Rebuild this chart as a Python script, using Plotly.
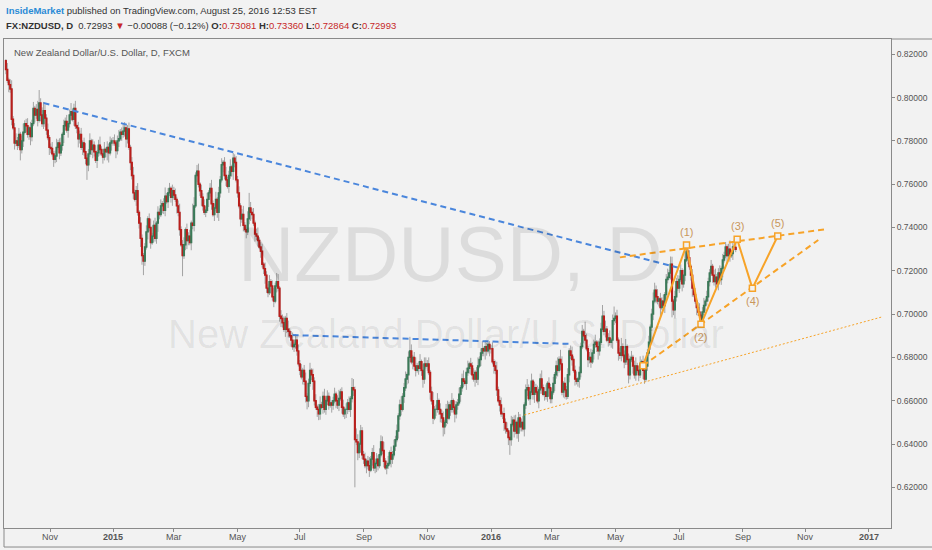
import pandas as pd
import plotly.graph_objects as go

# NZDUSD daily candles, prices in pips (1/10000), one line per month
opens = [
    8170, 8130, 8080, 8060, 8040, 7900, 7860, 7790,
    7800, 7780, 7830, 7760, 7800, 7840, 7880, 7870, 7830, 7860, 7820, 7880, 7950, 7920, 7945, 7895, 7975, 7920, 7880, 7940, 7905, 7850, 7815,
    7770, 7765, 7740, 7715, 7730, 7770, 7790, 7745, 7780, 7830, 7870, 7890, 7850, 7880, 7920, 7935, 7900, 7950, 7870, 7860,
    7810, 7830, 7770, 7790, 7750, 7720, 7690, 7740, 7800, 7760, 7780, 7750, 7710, 7745, 7780, 7760, 7740, 7725, 7760, 7750, 7770, 7745, 7790,
    7800, 7800, 7790, 7755, 7800, 7810, 7840, 7830, 7845, 7860, 7810, 7855, 7770, 7700, 7640, 7560, 7530, 7570, 7470, 7420, 7350, 7270,
    7245, 7310, 7380, 7440, 7400, 7330, 7360, 7410, 7350, 7420, 7470, 7460, 7500, 7510, 7480, 7545, 7520, 7560, 7580, 7540,
    7570, 7550, 7530, 7500, 7470, 7390, 7320, 7270, 7320, 7390, 7340, 7360, 7330, 7420, 7410, 7500, 7640, 7660, 7600, 7570, 7540, 7500,
    7470, 7480, 7530, 7560, 7580, 7510, 7460, 7490, 7530, 7470, 7560, 7620, 7690, 7700, 7640, 7620, 7590, 7640, 7680, 7660, 7720, 7700,
    7620, 7560, 7500, 7440, 7460, 7410, 7390, 7380, 7440, 7490, 7470, 7460, 7420, 7370, 7360, 7340, 7310, 7290, 7230, 7210, 7180,
    7120, 7100, 7150, 7130, 7080, 7060, 7130, 7150, 7120, 6990, 6980, 6960, 6930, 6980, 6930, 6920, 6900, 6880, 6850, 6860, 6880, 6830,
    6770, 6740, 6710, 6740, 6690, 6620, 6600, 6680, 6740, 6720, 6690, 6600, 6570, 6560, 6540, 6580, 6570, 6620, 6560, 6600, 6620, 6580, 6590,
    6580, 6600, 6630, 6600, 6580, 6610, 6640, 6570, 6540, 6560, 6560, 6590, 6560, 6610, 6660, 6650, 6420, 6410, 6360, 6400, 6460,
    6350, 6330, 6300, 6320, 6300, 6280, 6330, 6360, 6290, 6310, 6330, 6300, 6350, 6410, 6370, 6320, 6290, 6300, 6310, 6360, 6330, 6350,
    6390, 6420, 6460, 6530, 6580, 6560, 6620, 6660, 6700, 6720, 6800, 6830, 6780, 6800, 6760, 6740, 6760, 6750, 6780, 6740, 6700, 6770,
    6760, 6770, 6730, 6640, 6600, 6520, 6560, 6560, 6600, 6560, 6540, 6520, 6480, 6500, 6560, 6520, 6580, 6560, 6600, 6570, 6540,
    6580, 6590, 6630, 6660, 6700, 6690, 6680, 6730, 6750, 6770, 6760, 6720, 6700, 6730, 6700, 6760, 6790, 6820, 6840, 6830, 6850, 6830, 6860,
    6840, 6840, 6780, 6760, 6740, 6650, 6600, 6580, 6540, 6540, 6500, 6470, 6460, 6430, 6420, 6490, 6510, 6460, 6500, 6450, 6520,
    6480, 6500, 6470, 6580, 6650, 6660, 6610, 6640, 6690, 6630, 6660, 6640, 6600, 6650, 6700, 6660, 6630, 6640, 6620, 6680, 6660,
    6610, 6640, 6680, 6720, 6760, 6740, 6790, 6770, 6640, 6680, 6650, 6620, 6720, 6830, 6810, 6790, 6740, 6700, 6690, 6700, 6730, 6850, 6920,
    6900, 6880, 6840, 6790, 6800, 6780, 6820, 6860, 6870, 6850, 6830, 6870, 6930, 6990, 6920, 6930, 6880, 6890, 6870, 6880, 6970,
    6980, 6990, 6880, 6820, 6810, 6850, 6810, 6780, 6850, 6790, 6720, 6790, 6800, 6760, 6720, 6760, 6740, 6720, 6770, 6780, 6740, 6700,
    6760, 6820, 6870, 6940, 7000, 7060, 7110, 7080, 7060, 7070, 7030, 7060, 7040, 7090, 7160, 7170, 7190, 7230, 7060, 7020, 7080, 7150,
    7120, 7160, 7200, 7140, 7180, 7250, 7290, 7260, 7220, 7180, 7120, 7090, 7060, 7030, 7010, 6995, 6970, 7010, 7040, 7060, 7080,
    7150, 7190, 7220, 7180, 7150, 7170, 7140, 7190, 7160, 7210, 7250, 7270, 7310, 7270, 7300, 7270, 7280, 7310, 7308,
]
highs = [
    8178, 8160, 8092, 8085, 8080, 7915, 7882, 7835,
    7818, 7860, 7842, 7825, 7880, 7895, 7902, 7905, 7870, 7888, 7898, 7980, 7962, 7970, 7985, 8035, 7997, 7955, 7980, 7968, 7923, 7880, 7827,
    7788, 7795, 7752, 7755, 7810, 7805, 7812, 7815, 7840, 7898, 7908, 7920, 7892, 7945, 7975, 7950, 7972, 7985, 7880, 7888,
    7848, 7860, 7802, 7815, 7790, 7735, 7762, 7835, 7810, 7808, 7798, 7780, 7757, 7805, 7820, 7775, 7762, 7795, 7770, 7798, 7788, 7820, 7812,
    7818, 7830, 7802, 7825, 7850, 7855, 7862, 7880, 7887, 7878, 7873, 7885, 7782, 7725, 7680, 7575, 7592, 7605, 7480, 7448, 7368, 7282,
    7328, 7410, 7452, 7465, 7440, 7375, 7432, 7445, 7430, 7498, 7488, 7530, 7522, 7535, 7585, 7560, 7582, 7606, 7590, 7598,
    7588, 7580, 7542, 7525, 7510, 7405, 7342, 7355, 7400, 7418, 7378, 7390, 7432, 7510, 7540, 7655, 7689, 7695, 7610, 7598, 7558, 7530,
    7498, 7560, 7572, 7605, 7620, 7525, 7512, 7565, 7540, 7588, 7638, 7720, 7712, 7725, 7680, 7635, 7662, 7715, 7690, 7744, 7738, 7730,
    7638, 7590, 7512, 7485, 7500, 7425, 7412, 7475, 7560, 7518, 7488, 7490, 7432, 7395, 7400, 7355, 7332, 7325, 7240, 7238, 7198,
    7138, 7180, 7162, 7155, 7120, 7145, 7190, 7185, 7130, 7018, 6998, 6990, 6992, 7005, 6970, 6935, 6922, 6915, 6870, 6908, 6898, 6860,
    6788, 6770, 6752, 6765, 6730, 6635, 6702, 6775, 6750, 6748, 6708, 6630, 6582, 6585, 6620, 6595, 6642, 6655, 6610, 6648, 6638, 6620, 6602,
    6618, 6660, 6642, 6625, 6650, 6655, 6662, 6605, 6570, 6588, 6608, 6620, 6622, 6705, 6700, 6665, 6472, 6445, 6410, 6488, 6478,
    6368, 6360, 6332, 6345, 6340, 6345, 6382, 6395, 6320, 6358, 6348, 6380, 6440, 6435, 6410, 6335, 6322, 6345, 6370, 6388, 6368, 6420,
    6438, 6490, 6542, 6605, 6620, 6635, 6682, 6735, 6730, 6828, 6895, 6860, 6812, 6825, 6800, 6775, 6782, 6815, 6790, 6768, 6800, 6800,
    6788, 6800, 6742, 6665, 6640, 6575, 6582, 6635, 6610, 6588, 6558, 6550, 6512, 6585, 6600, 6595, 6602, 6635, 6610, 6598, 6598,
    6608, 6660, 6672, 6725, 6740, 6705, 6752, 6785, 6780, 6798, 6778, 6750, 6742, 6755, 6800, 6805, 6842, 6875, 6850, 6878, 6868, 6872, 6875,
    6858, 6870, 6792, 6785, 6780, 6665, 6622, 6615, 6550, 6568, 6518, 6500, 6472, 6455, 6530, 6525, 6532, 6535, 6510, 6548, 6538,
    6518, 6530, 6592, 6675, 6700, 6675, 6662, 6725, 6700, 6688, 6678, 6670, 6662, 6725, 6740, 6675, 6662, 6675, 6690, 6708, 6678,
    6658, 6710, 6732, 6785, 6800, 6805, 6835, 6805, 6690, 6708, 6668, 6750, 6842, 6855, 6850, 6805, 6762, 6735, 6710, 6758, 6868, 6950, 6932,
    6965, 6910, 6852, 6825, 6840, 6835, 6882, 6905, 6880, 6878, 6888, 6960, 7042, 7015, 6970, 6945, 6912, 6925, 6890, 6998, 7035,
    7008, 7020, 6892, 6845, 6890, 6865, 6832, 6885, 6860, 6818, 6808, 6830, 6812, 6785, 6800, 6775, 6762, 6805, 6790, 6808, 6758, 6790,
    6838, 6900, 6952, 7025, 7100, 7145, 7132, 7115, 7080, 7098, 7078, 7090, 7102, 7185, 7210, 7205, 7266, 7265, 7070, 7108, 7168, 7180,
    7178, 7230, 7212, 7205, 7290, 7328, 7312, 7295, 7230, 7208, 7138, 7120, 7072, 7055, 7050, 7010, 7032, 7075, 7070, 7108, 7168,
    7208, 7250, 7232, 7205, 7210, 7185, 7212, 7225, 7220, 7278, 7288, 7333, 7322, 7325, 7340, 7295, 7332, 7345, 7336,
]
lows = [
    8108, 8068, 8025, 8022, 7872, 7850, 7760, 7775,
    7758, 7768, 7710, 7742, 7772, 7830, 7840, 7815, 7805, 7780, 7798, 7868, 7885, 7902, 7867, 7885, 7890, 7865, 7855, 7865, 7828, 7803, 7735,
    7743, 7728, 7680, 7697, 7702, 7760, 7715, 7730, 7755, 7790, 7848, 7838, 7815, 7862, 7892, 7890, 7870, 7855, 7835, 7770,
    7788, 7758, 7735, 7732, 7692, 7620, 7660, 7725, 7735, 7720, 7728, 7698, 7675, 7727, 7732, 7730, 7695, 7710, 7725, 7710, 7700, 7733, 7755,
    7778, 7778, 7720, 7737, 7772, 7800, 7800, 7815, 7820, 7770, 7788, 7758, 7665, 7622, 7532, 7520, 7500, 7455, 7395, 7310, 7228, 7180,
    7223, 7298, 7345, 7382, 7302, 7320, 7330, 7335, 7325, 7380, 7438, 7448, 7465, 7462, 7452, 7510, 7490, 7545, 7515, 7500,
    7528, 7518, 7465, 7452, 7362, 7310, 7175, 7255, 7295, 7300, 7318, 7318, 7295, 7392, 7382, 7490, 7610, 7585, 7545, 7500, 7478, 7458,
    7448, 7468, 7495, 7542, 7482, 7450, 7430, 7475, 7445, 7430, 7538, 7608, 7655, 7622, 7592, 7580, 7560, 7625, 7635, 7620, 7678, 7608,
    7538, 7488, 7405, 7422, 7382, 7380, 7350, 7365, 7415, 7430, 7438, 7408, 7335, 7342, 7312, 7300, 7260, 7215, 7185, 7140, 7098,
    7078, 7088, 7095, 7062, 7032, 7050, 7100, 7105, 6965, 6940, 6938, 6918, 6895, 6912, 6892, 6890, 6850, 6835, 6825, 6840, 6808, 6758,
    6718, 6698, 6675, 6672, 6592, 6560, 6570, 6665, 6695, 6650, 6578, 6558, 6525, 6510, 6512, 6560, 6540, 6545, 6535, 6580, 6558, 6568, 6545,
    6558, 6588, 6565, 6562, 6552, 6600, 6540, 6525, 6515, 6520, 6538, 6548, 6525, 6592, 6622, 6200, 6395, 6325, 6335, 6360, 6330,
    6308, 6288, 6265, 6282, 6248, 6270, 6300, 6275, 6265, 6270, 6278, 6288, 6338, 6352, 6292, 6280, 6260, 6285, 6300, 6292, 6308, 6338,
    6368, 6408, 6425, 6512, 6532, 6550, 6590, 6645, 6675, 6680, 6778, 6768, 6745, 6742, 6712, 6730, 6720, 6735, 6715, 6660, 6678, 6748,
    6738, 6718, 6605, 6582, 6492, 6510, 6530, 6545, 6535, 6500, 6498, 6435, 6445, 6482, 6492, 6510, 6530, 6545, 6545, 6500, 6518,
    6558, 6578, 6595, 6642, 6662, 6670, 6650, 6715, 6725, 6720, 6698, 6688, 6665, 6682, 6672, 6750, 6760, 6805, 6805, 6790, 6808, 6818, 6805,
    6818, 6768, 6725, 6722, 6622, 6590, 6550, 6525, 6515, 6460, 6448, 6448, 6395, 6350, 6392, 6480, 6430, 6445, 6425, 6410, 6458,
    6458, 6458, 6435, 6562, 6622, 6600, 6580, 6625, 6605, 6590, 6628, 6588, 6565, 6632, 6632, 6620, 6600, 6605, 6595, 6620, 6588,
    6588, 6628, 6645, 6702, 6712, 6730, 6740, 6625, 6615, 6610, 6605, 6608, 6685, 6792, 6762, 6730, 6670, 6675, 6665, 6660, 6708, 6838, 6865,
    6858, 6828, 6755, 6772, 6752, 6770, 6790, 6845, 6825, 6790, 6808, 6858, 6918, 6902, 6892, 6870, 6850, 6855, 6845, 6840, 6950,
    6958, 6868, 6785, 6792, 6782, 6800, 6750, 6765, 6765, 6680, 6698, 6778, 6725, 6702, 6692, 6730, 6690, 6705, 6745, 6700, 6678, 6688,
    6738, 6808, 6835, 6922, 6972, 7050, 7050, 7045, 7035, 6990, 7018, 7028, 7005, 7072, 7142, 7160, 7160, 6985, 6995, 6980, 7058, 7108,
    7098, 7148, 7105, 7122, 7152, 7240, 7230, 7205, 7155, 7080, 7078, 7048, 6995, 6992, 6967, 6942, 6955, 6995, 7015, 7040, 7058,
    7128, 7178, 7145, 7132, 7122, 7130, 7110, 7145, 7135, 7170, 7238, 7258, 7235, 7252, 7242, 7260, 7250, 7295, 7286,
]
closes = [
    8130, 8080, 8060, 8040, 7900, 7860, 7790, 7800,
    7780, 7830, 7760, 7800, 7840, 7880, 7870, 7830, 7860, 7820, 7880, 7950, 7920, 7945, 7895, 7975, 7920, 7880, 7940, 7905, 7850, 7815, 7770,
    7765, 7740, 7715, 7730, 7770, 7790, 7745, 7780, 7830, 7870, 7890, 7850, 7880, 7920, 7935, 7900, 7950, 7870, 7860, 7810,
    7830, 7770, 7790, 7750, 7720, 7690, 7740, 7800, 7760, 7780, 7750, 7710, 7745, 7780, 7760, 7740, 7725, 7760, 7750, 7770, 7745, 7790, 7800,
    7800, 7790, 7755, 7800, 7810, 7840, 7830, 7845, 7860, 7810, 7855, 7770, 7700, 7640, 7560, 7530, 7570, 7470, 7420, 7350, 7270, 7245,
    7310, 7380, 7440, 7400, 7330, 7360, 7410, 7350, 7420, 7470, 7460, 7500, 7510, 7480, 7545, 7520, 7560, 7580, 7540, 7570,
    7550, 7530, 7500, 7470, 7390, 7320, 7270, 7320, 7390, 7340, 7360, 7330, 7420, 7410, 7500, 7640, 7660, 7600, 7570, 7540, 7500, 7470,
    7480, 7530, 7560, 7580, 7510, 7460, 7490, 7530, 7470, 7560, 7620, 7690, 7700, 7640, 7620, 7590, 7640, 7680, 7660, 7720, 7700, 7620,
    7560, 7500, 7440, 7460, 7410, 7390, 7380, 7440, 7490, 7470, 7460, 7420, 7370, 7360, 7340, 7310, 7290, 7230, 7210, 7180, 7120,
    7100, 7150, 7130, 7080, 7060, 7130, 7150, 7120, 6990, 6980, 6960, 6930, 6980, 6930, 6920, 6900, 6880, 6850, 6860, 6880, 6830, 6770,
    6740, 6710, 6740, 6690, 6620, 6600, 6680, 6740, 6720, 6690, 6600, 6570, 6560, 6540, 6580, 6570, 6620, 6560, 6600, 6620, 6580, 6590, 6580,
    6600, 6630, 6600, 6580, 6610, 6640, 6570, 6540, 6560, 6560, 6590, 6560, 6610, 6660, 6650, 6420, 6410, 6360, 6400, 6460, 6350,
    6330, 6300, 6320, 6300, 6280, 6330, 6360, 6290, 6310, 6330, 6300, 6350, 6410, 6370, 6320, 6290, 6300, 6310, 6360, 6330, 6350, 6390,
    6420, 6460, 6530, 6580, 6560, 6620, 6660, 6700, 6720, 6800, 6830, 6780, 6800, 6760, 6740, 6760, 6750, 6780, 6740, 6700, 6770, 6760,
    6770, 6730, 6640, 6600, 6520, 6560, 6560, 6600, 6560, 6540, 6520, 6480, 6500, 6560, 6520, 6580, 6560, 6600, 6570, 6540, 6580,
    6590, 6630, 6660, 6700, 6690, 6680, 6730, 6750, 6770, 6760, 6720, 6700, 6730, 6700, 6760, 6790, 6820, 6840, 6830, 6850, 6830, 6860, 6840,
    6840, 6780, 6760, 6740, 6650, 6600, 6580, 6540, 6540, 6500, 6470, 6460, 6430, 6420, 6490, 6510, 6460, 6500, 6450, 6520, 6480,
    6500, 6470, 6580, 6650, 6660, 6610, 6640, 6690, 6630, 6660, 6640, 6600, 6650, 6700, 6660, 6630, 6640, 6620, 6680, 6660, 6610,
    6640, 6680, 6720, 6760, 6740, 6790, 6770, 6640, 6680, 6650, 6620, 6720, 6830, 6810, 6790, 6740, 6700, 6690, 6700, 6730, 6850, 6920, 6900,
    6880, 6840, 6790, 6800, 6780, 6820, 6860, 6870, 6850, 6830, 6870, 6930, 6990, 6920, 6930, 6880, 6890, 6870, 6880, 6970, 6980,
    6990, 6880, 6820, 6810, 6850, 6810, 6780, 6850, 6790, 6720, 6790, 6800, 6760, 6720, 6760, 6740, 6720, 6770, 6780, 6740, 6700, 6760,
    6820, 6870, 6940, 7000, 7060, 7110, 7080, 7060, 7070, 7030, 7060, 7040, 7090, 7160, 7170, 7190, 7230, 7060, 7020, 7080, 7150, 7120,
    7160, 7200, 7140, 7180, 7250, 7290, 7260, 7220, 7180, 7120, 7090, 7060, 7030, 7010, 6995, 6970, 7010, 7040, 7060, 7080, 7150,
    7190, 7220, 7180, 7150, 7170, 7140, 7190, 7160, 7210, 7250, 7270, 7310, 7270, 7300, 7270, 7280, 7310, 7308, 7299,
]
last_day = "2016-08-25"

# drawings on the chart (date, price)
blue_top_x = ["2014-10-27", "2016-07-01"]
blue_top_y = [0.7975, 0.7213]
blue_mid_x = ["2015-06-24", "2016-03-21"]
blue_mid_y = [0.6903, 0.6862]
support_x = ["2016-02-03", "2017-01-13"]
support_y = [0.6534, 0.6987]
wedge_top_x = ["2016-05-05", "2016-11-21"]
wedge_top_y = [0.7262, 0.7392]
wedge_low_x = ["2016-05-27", "2016-11-14"]
wedge_low_y = [0.6762, 0.7342]
wave_x = ["2016-05-27", "2016-07-08", "2016-07-22", "2016-08-26", "2016-09-09 12:00", "2016-10-05"]
wave_y = [0.6762, 0.7319, 0.6953, 0.7346, 0.7119, 0.7361]
wave_labels = ["", "(1)", "(2)", "(3)", "(4)", "(5)"]

tick_dates = ["2014-11-03", "2015-01-01", "2015-03-02", "2015-05-01", "2015-07-01", "2015-09-01", "2015-11-02",
              "2016-01-01", "2016-03-01", "2016-05-02", "2016-07-01", "2016-09-01", "2016-11-01", "2017-01-02"]
tick_labels = ["Nov", "<b>2015</b>", "Mar", "May", "Jul", "Sep", "Nov",
               "<b>2016</b>", "Mar", "May", "Jul", "Sep", "Nov", "<b>2017</b>"]
price_ticks = [0.62, 0.64, 0.66, 0.68, 0.70, 0.72, 0.74, 0.76, 0.78, 0.80, 0.82]

assert len(opens) == len(highs) == len(lows) == len(closes), (len(opens), len(highs), len(lows), len(closes))

BG = "#f2f2f2"
AXIS = "#8a8a8a"
WICK = "#a3a3a3"
UP = "#3b7a58"
DOWN = "#b91f1c"
BLUE = "#4a86dc"
ORANGE = "#f7a328"
LABEL = "#c9975c"
FONT = "Liberation Sans, Arial, sans-serif"

o = [v / 10000 for v in opens]
h = [v / 10000 for v in highs]
l = [v / 10000 for v in lows]
c = [v / 10000 for v in closes]
dates = pd.bdate_range(end=last_day, periods=len(c))

fig = go.Figure()

# grey wicks
fig.add_trace(go.Candlestick(
    x=dates, open=o, high=h, low=l, close=c,
    increasing=dict(line=dict(color=WICK, width=1), fillcolor=WICK),
    decreasing=dict(line=dict(color=WICK, width=1), fillcolor=WICK),
    hoverinfo="skip", showlegend=False))

# coloured bodies on top
body_hi = [max(a, b) for a, b in zip(o, c)]
body_lo = [min(a, b) for a, b in zip(o, c)]
fig.add_trace(go.Candlestick(
    x=dates, open=o, high=body_hi, low=body_lo, close=c,
    increasing=dict(line=dict(color=UP, width=1.4), fillcolor=UP),
    decreasing=dict(line=dict(color=DOWN, width=1.4), fillcolor=DOWN),
    hoverinfo="skip", showlegend=False))

# trend lines
fig.add_trace(go.Scatter(x=blue_top_x, y=blue_top_y, mode="lines",
                         line=dict(color=BLUE, width=2, dash="6px,4px"), hoverinfo="skip"))
fig.add_trace(go.Scatter(x=blue_mid_x, y=blue_mid_y, mode="lines",
                         line=dict(color=BLUE, width=2, dash="6px,4px"), hoverinfo="skip"))
fig.add_trace(go.Scatter(x=support_x, y=support_y, mode="lines",
                         line=dict(color=ORANGE, width=1, dash="2px,2px"), hoverinfo="skip"))
fig.add_trace(go.Scatter(x=wedge_top_x, y=wedge_top_y, mode="lines",
                         line=dict(color=ORANGE, width=2, dash="6px,4px"), hoverinfo="skip"))
fig.add_trace(go.Scatter(x=wedge_low_x, y=wedge_low_y, mode="lines",
                         line=dict(color=ORANGE, width=2, dash="6px,4px"), hoverinfo="skip"))
fig.add_trace(go.Scatter(x=wave_x, y=wave_y, mode="lines+markers",
                         line=dict(color=ORANGE, width=2),
                         marker=dict(symbol="square", size=6, color=BG, line=dict(color=ORANGE, width=1.5)),
                         hoverinfo="skip"))

for i, lab in enumerate(wave_labels):
    if not lab:
        continue
    fig.add_annotation(x=wave_x[i], y=wave_y[i], text=lab, showarrow=False,
                       yshift=13 if i % 2 == 1 else -13,
                       font=dict(family=FONT, size=11, color=LABEL))

# watermark
fig.add_annotation(xref="paper", yref="paper", x=0.503, y=0.561, text="NZDUSD, D", showarrow=False,
                   font=dict(family=FONT, size=78, color="rgba(0,0,0,0.09)"))
fig.add_annotation(xref="paper", yref="paper", x=0.498, y=0.397, text="New Zealand Dollar/U.S. Dollar",
                   showarrow=False, font=dict(family=FONT, size=40, color="rgba(0,0,0,0.075)"))

# header
fig.add_annotation(xref="paper", yref="paper", x=0, y=1.0593, xanchor="left", yanchor="middle", showarrow=False,
                   text="<b><span style='color:#2a8bd6'>InsideMarket</span></b> published on TradingView.com, August 25, 2016 12:53 EST",
                   font=dict(family=FONT, size=9.5, color="#333333"))
fig.add_annotation(xref="paper", yref="paper", x=0, y=1.0286, xanchor="left", yanchor="middle", showarrow=False,
                   text=("<b>FX:NZDUSD, D</b>  0.72993 <span style='color:#c62828'>▼</span> −0.00088 (−0.12%) "
                         "<b>O:</b><span style='color:#c62828'>0.73081</span> <b>H:</b><span style='color:#c62828'>0.73360</span> "
                         "<b>L:</b><span style='color:#c62828'>0.72864</span> <b>C:</b><span style='color:#c62828'>0.72993</span>"),
                   font=dict(family=FONT, size=9.5, color="#333333"))
fig.add_annotation(xref="paper", yref="paper", x=0.009, y=0.9734, xanchor="left", yanchor="middle", showarrow=False,
                   text="New Zealand Dollar/U.S. Dollar, D, FXCM",
                   font=dict(family=FONT, size=9.5, color="#555555"))

# month labels under the time axis
for d, lab in zip(tick_dates, tick_labels):
    fig.add_annotation(x=d, xref="x", yref="paper", y=-0.0184, yanchor="middle", text=lab, showarrow=False,
                       font=dict(family=FONT, size=9, color="#555555"))

# outer frame pieces around the axis strips
fig.add_shape(type="line", xref="paper", yref="paper", x0=1, x1=1.05, y0=1, y1=1, line=dict(color=AXIS, width=1))
fig.add_shape(type="line", xref="paper", yref="paper", x0=0, x1=1.05, y0=-0.0389, y1=-0.0389, line=dict(color=AXIS, width=1))
fig.add_shape(type="line", xref="paper", yref="paper", x0=0, x1=0, y0=0, y1=-0.0389, line=dict(color=AXIS, width=1))

fig.update_layout(
    width=932, height=550,
    margin=dict(l=4, r=41, t=39, b=22),
    paper_bgcolor=BG, plot_bgcolor=BG,
    showlegend=False,
    hovermode=False,
    xaxis=dict(type="date", range=["2014-09-17 17:00", "2017-01-23 05:00"],
               rangebreaks=[dict(bounds=["sat", "mon"])],
               rangeslider=dict(visible=False),
               showgrid=False, zeroline=False,
               tickvals=tick_dates, showticklabels=False,
               ticks="outside", ticklen=3, tickcolor=AXIS,
               showline=True, linecolor=AXIS, mirror=True),
    yaxis=dict(side="right", range=[0.6012, 0.82707],
               showgrid=False, zeroline=False,
               tickvals=price_ticks, ticktext=[f"{v:.5f}" for v in price_ticks],
               ticks="outside", ticklen=3, tickcolor=AXIS,
               tickfont=dict(family=FONT, size=8.5, color="#555555"),
               showline=True, linecolor=AXIS, mirror=True),
)

# page body has a default 8px margin; drop it so the chart sits at the window corner
fig.write_html("out.html", config={"displayModeBar": False},
               post_script="document.body.style.margin='0px';")
